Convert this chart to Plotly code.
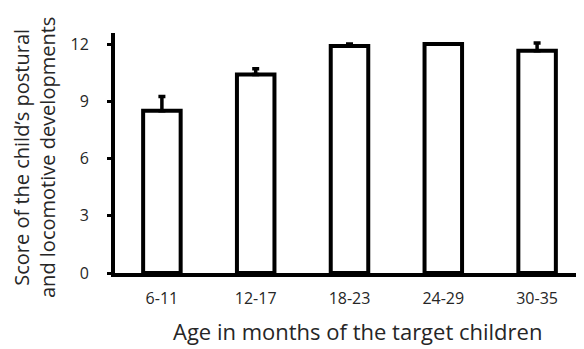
import plotly.graph_objects as go

categories = ["6-11", "12-17", "18-23", "24-29", "30-35"]
scores = [8.5, 10.4, 11.9, 12.0, 11.65]
errors_up = [0.75, 0.3, 0.1, 0.0, 0.4]
y_ticks = [0, 3, 6, 9, 12]

x_title = "Age in months of the target children"
y_title = "Score of the child\u2019s postural<br>and locomotive developments"

font_family = "'Open Sans', 'Noto Sans', sans-serif"
text_color = "#262626"

# the page body has an 8px default margin, so the figure is 8px smaller
PAGE_OFFSET = 8
FIG_W, FIG_H = 584 - PAGE_OFFSET, 349 - PAGE_OFFSET
M_L, M_R, M_T, M_B = 107, 0, 25, 76
PLOT_W = FIG_W - M_L - M_R
PLOT_H = FIG_H - M_T - M_B


def px_x(px):
    """page pixel -> paper x"""
    return (px - PAGE_OFFSET - M_L) / PLOT_W


def px_y(py):
    """page pixel -> paper y"""
    return (FIG_H - M_B - (py - PAGE_OFFSET)) / PLOT_H


fig = go.Figure(
    go.Bar(
        x=categories,
        y=scores,
        width=0.4,
        marker=dict(color="white", line=dict(color="black", width=4)),
        error_y=dict(
            type="data",
            symmetric=False,
            array=errors_up,
            arrayminus=[0] * len(errors_up),
            color="black",
            thickness=3.5,
            width=3.5,
        ),
    )
)

fig.update_layout(
    width=FIG_W,
    height=FIG_H,
    margin=dict(l=M_L, r=M_R, t=M_T, b=M_B),
    paper_bgcolor="white",
    plot_bgcolor="white",
    showlegend=False,
    font=dict(family=font_family, color=text_color),
    xaxis=dict(
        range=[-0.5, 4.5],
        showline=True,
        linecolor="black",
        linewidth=4,
        ticks="",
        ticklabelstandoff=8,
        showgrid=False,
        automargin=False,
        tickfont=dict(size=16),
    ),
    yaxis=dict(
        range=[0, 12.58],
        tickvals=y_ticks,
        showline=True,
        linecolor="black",
        linewidth=4,
        ticks="outside",
        ticklen=4,
        tickwidth=3,
        tickcolor="black",
        ticklabelstandoff=15,
        showgrid=False,
        zeroline=False,
        automargin=False,
        tickfont=dict(size=16),
    ),
    annotations=[
        dict(
            text=x_title,
            xref="paper",
            yref="paper",
            x=px_x(357),
            y=px_y(331),
            xanchor="center",
            yanchor="middle",
            showarrow=False,
            font=dict(size=22, family=font_family, color=text_color),
        ),
        dict(
            text=y_title,
            xref="paper",
            yref="paper",
            x=px_x(34),
            y=px_y(158),
            xanchor="center",
            yanchor="middle",
            textangle=-90,
            showarrow=False,
            font=dict(size=20, family=font_family, color=text_color),
        ),
    ],
)

fig.write_html("out.html")
